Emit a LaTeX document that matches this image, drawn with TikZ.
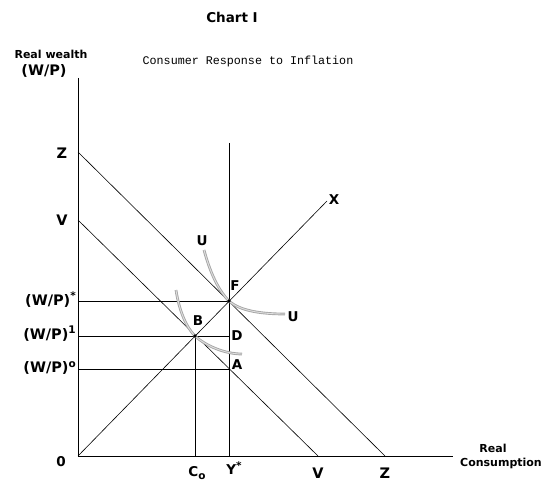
\documentclass[tikz,border=0pt]{standalone}
\usepackage{fontspec}
\setmainfont{DejaVu Sans}
\newfontfamily\typew{Liberation Mono}
\usetikzlibrary{positioning}
\newcommand{\sups}[1]{\raisebox{0.75ex}{\fontsize{10.5}{11}\selectfont #1}}

\begin{document}
\begin{tikzpicture}[x=1pt,y=-1pt,every node/.style={inner sep=0pt,font=\bfseries\fontsize{13.5}{15}\selectfont}]
  \tikzset{ax/.style={line width=0.9pt},
           ln/.style={line width=0.6pt},
           indiff/.style={draw=gray!70,double=gray!25,double distance=0.9pt,line width=0.9pt},
           dot/.style={circle,fill,minimum size=3.6pt,inner sep=0pt},
           big/.style={font=\bfseries\fontsize{14.5}{16}\selectfont},
           small/.style={font=\bfseries\fontsize{11}{13}\selectfont}}
  \useasboundingbox (0,0) rectangle (548,481);
  % frame of the chart
  \coordinate (O) at (78,456);
  \coordinate (ytop) at (78,78);
  \coordinate (xend) at (453,456);
  \coordinate (Z0) at (78,152);  \coordinate (Z1) at (385,456);
  \coordinate (V0) at (78,220);  \coordinate (V1) at (318,456);
  \coordinate (Xend) at (327,201);
  \coordinate (Ytop) at (229,143);
  \coordinate (F) at (229,301);
  \coordinate (B) at (195,336);
  \coordinate (D) at (229,336);
  \coordinate (A) at (229,369);
  \draw[ax] (ytop) -- (O) -- (xend);
  \draw[ln] (Z0) -- (Z1);
  \draw[ln] (V0) -- (V1);
  \draw[ln] (O) -- (Xend);
  \draw[ln] (Ytop) -- (O -| Ytop);
  \draw[ln] (B) -- (O -| B);
  \draw[ln] (O |- F) -- (F);
  \draw[ln] (O |- D) -- (D);
  \draw[ln] (O |- A) -- (A);
  % indifference curves
  \coordinate (u1a) at (204,250); \coordinate (u1b) at (285,314);
  \coordinate (u2a) at (176,290); \coordinate (u2b) at (242,354);
  \draw[indiff] (u1a) .. controls (210,272) and (218,290) .. (F)
                      .. controls (240,311) and (262,314) .. (u1b);
  \draw[indiff] (u2a) .. controls (179,310) and (186,327) .. (B)
                      .. controls (206,346) and (225,354) .. (u2b);
  \node[dot] (Fdot) at (F) {};
  \node[dot] (Bdot) at (B) {};
  % labels
  \node (title) at (232,17) {Chart I};
  \node[font=\typew\fontsize{11.7}{14}\selectfont] (sub) at (248,61) {Consumer Response to Inflation};
  \node[small] (ylab) at (51,54) {Real wealth};
  \node[big,below=6pt of ylab.south,anchor=north,xshift=-7pt] (ylab2) {(W/P)};
  \node[small] (xlab) at (493,448) {Real};
  \node[small] (xlab2) at (501,463) {Consumption};
  \node[big] (Zy) at (62,153) {Z};
  \node[big] (Vy) at (62,220) {V};
  \node[big,anchor=east] (wstar) at (76,300) {(W/P)\sups{*}};
  \node[big,anchor=east] (wone) at (76,334) {(W/P)\sups{1}};
  \node[big,anchor=east] (wzero) at (76,368) {(W/P)\sups{o}};
  \node (zero) at (61,462) {0};
  \node (Co) at (197,473) {C\raisebox{-0.35ex}{\fontsize{10.5}{11}\selectfont o}};
  \node (Ystar) at (234,468) {Y\sups{*}};
  \node[big] (Vx) at (318,473) {V};
  \node[big] (Zx) at (385,473) {Z};
  \node (Xl) at (334,200) {X};
  \node (Fl) at (235,286) {F};
  \node (Bl) at (198,321) {B};
  \node (Dl) at (237,336) {D};
  \node (Al) at (237,365) {A};
  \node (U1) at (202,241) {U};
  \node (U2) at (293,317) {U};
\end{tikzpicture}
\end{document}
